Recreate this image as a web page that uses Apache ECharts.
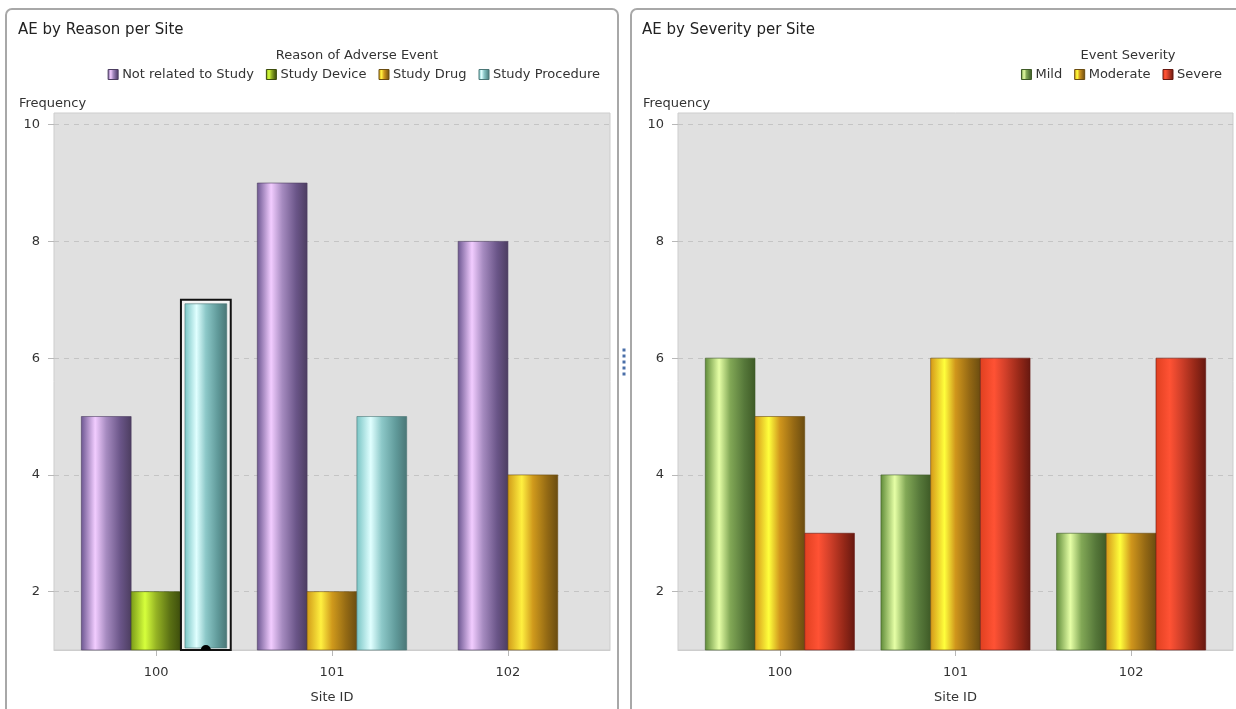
<!DOCTYPE html>
<html>
<head>
<meta charset="utf-8">
<script src="https://cdn.jsdelivr.net/npm/echarts@6/dist/echarts.min.js"></script>
<style>
  html, body { margin: 0; padding: 0; background: #fff; }
  #chart { width: 1236px; height: 709px; }
</style>
</head>
<body>
<div id="chart"></div>
<script>
// sites on the x axis
const sites = [100, 101, 102]
const yTicks = [2, 4, 6, 8, 10]
const yMin = 1
const yMax = 10.2

// AE by Reason per Site
const reasons = ['Not related to Study', 'Study Device', 'Study Drug', 'Study Procedure']
const notRelated = [5, 9, 8]
const studyDevice = [2, 0, 0]
const studyDrug = [0, 2, 4]
const studyProcedure = [7, 5, 0]
const reasonValues = [notRelated, studyDevice, studyDrug, studyProcedure]
// bar that is shown selected in the original view
const selected = { site: 100, reason: 'Study Procedure' }

// AE by Severity per Site
const severities = ['Mild', 'Moderate', 'Severe']
const mild = [6, 4, 3]
const moderate = [5, 6, 3]
const severe = [3, 6, 6]
const severityValues = [mild, moderate, severe]

const gradStops = {
  'Not related to Study': ['#6b5690', '#f2ccff', '#a68bc0', '#6a5588', '#4c3d60'],
  'Study Device': ['#7a9a18', '#d6ff3c', '#96b424', '#5a7014', '#3c4c0c'],
  'Study Drug': ['#d09a18', '#fff040', '#d09a1c', '#946a14', '#6a4c10'],
  'Study Procedure': ['#78c4c4', '#e0ffff', '#8cc8c8', '#609a9a', '#4a7676'],
  'Mild': ['#5e8a38', '#e6ffa6', '#82a856', '#56783a', '#3e5a26'],
  'Moderate': ['#d49618', '#ffff3c', '#d0961c', '#946814', '#6a4c10'],
  'Severe': ['#e04020', '#ff5234', '#d2402a', '#962818', '#661810']
}
const stopPos = [0, 0.28, 0.5, 0.78, 1]

const makeGrad = name => new echarts.graphic.LinearGradient(0, 0, 1, 0,
  gradStops[name].map((c, i) => ({ offset: stopPos[i], color: c })))

// bar width in site units
const barUnit = 0.283

// only the values present at a site are clustered around its tick
const buildData = (names, values) => {
  const out = names.map(() => [])
  sites.forEach((site, si) => {
    const present = names.map((n, k) => k).filter(k => values[k][si] > 0)
    present.forEach((k, slot) => {
      const isSel = names[k] === selected.reason && site === selected.site ? 1 : 0
      out[k].push([site, values[k][si], slot, present.length, isSel])
    })
  })
  return out
}

const renderBar = (params, api) => {
  const site = api.value(0)
  const v = api.value(1)
  const slot = api.value(2)
  const n = api.value(3)
  const isSel = api.value(4)
  const w = api.size([barUnit, 0])[0]
  const top = api.coord([site, v])
  const base = api.coord([site, yMin])
  const x = top[0] + (slot - (n - 1) / 2) * w - w / 2
  const h = base[1] - top[1]
  const fill = makeGrad(params.seriesName)
  const dark = gradStops[params.seriesName][4]
  if (!isSel) {
    return {
      type: 'rect',
      shape: { x: x, y: top[1], width: w, height: h },
      style: { fill: fill, stroke: dark, lineWidth: 0.6 }
    }
  }
  return {
    type: 'group',
    children: [
      {
        type: 'rect',
        shape: { x: x, y: top[1], width: w, height: h },
        style: { fill: '#f4f4f4', stroke: '#111', lineWidth: 2 }
      },
      {
        type: 'rect',
        shape: { x: x + 4, y: top[1] + 4, width: w - 8, height: h - 6 },
        style: { fill: fill, stroke: dark, lineWidth: 0.6 }
      },
      {
        type: 'sector',
        shape: { cx: x + w / 2, cy: base[1], r0: 0, r: 5, startAngle: Math.PI, endAngle: Math.PI * 2 },
        style: { fill: '#000' }
      }
    ]
  }
}

const font = 'DejaVu Sans'
const txt = '#333'

const makeGrid = (left, width) => ({
  left: left, top: 113, width: width, height: 537,
  show: true, backgroundColor: '#e0e0e0', borderColor: '#cdcdcd', borderWidth: 1
})

const makeX = idx => ({
  type: 'value', gridIndex: idx, min: 99.42, max: 102.58,
  name: 'Site ID', nameLocation: 'middle', nameGap: 41,
  nameTextStyle: { fontFamily: font, fontSize: 13, color: txt },
  splitLine: { show: false },
  axisLine: { show: true, lineStyle: { color: '#cdcdcd' } },
  axisTick: { show: true, customValues: sites, length: 6, lineStyle: { color: '#b8b8b8' } },
  axisLabel: {
    customValues: sites, margin: 16, fontFamily: font, fontSize: 13, color: txt,
    formatter: v => Number.isInteger(v) ? String(v) : ''
  }
})

const makeY = idx => ({
  type: 'value', gridIndex: idx, min: yMin, max: yMax, splitNumber: 5,
  name: 'Frequency', nameLocation: 'end', nameGap: 3,
  nameTextStyle: { fontFamily: font, fontSize: 13, color: txt, align: 'left', padding: [0, 0, 0, -35] },
  axisLine: { show: false },
  axisTick: { show: true, customValues: yTicks, length: 6, lineStyle: { color: '#b8b8b8' } },
  axisLabel: {
    customValues: yTicks, margin: 14, fontFamily: font, fontSize: 13, color: txt,
    formatter: v => yTicks.includes(v) ? String(v) : ''
  },
  splitLine: { show: true, lineStyle: { type: [5, 5], color: '#c4c4c4' } }
})

const reasonData = buildData(reasons, reasonValues)
const severityData = buildData(severities, severityValues)

const makeSeries = (names, data, idx) => names.map((name, k) => ({
  name: name,
  type: 'custom',
  coordinateSystem: 'cartesian2d',
  xAxisIndex: idx,
  yAxisIndex: idx,
  itemStyle: { color: gradStops[name][1] },
  encode: { x: 0, y: 1 },
  renderItem: renderBar,
  data: data[k]
}))

const legendItem = name => ({
  name: name,
  icon: 'rect',
  itemStyle: { color: makeGrad(name), borderColor: gradStops[name][4], borderWidth: 1 }
})

const chart = echarts.init(document.getElementById('chart'))
chart.setOption({
  backgroundColor: '#fff',
  animation: false,
  graphic: [
    { type: 'rect', shape: { x: 6, y: 9, width: 612, height: 720, r: [6, 6, 0, 0] },
      style: { fill: '#fff', stroke: '#a8a8a8', lineWidth: 2 }, z: -10 },
    { type: 'rect', shape: { x: 631, y: 9, width: 620, height: 720, r: [6, 6, 0, 0] },
      style: { fill: '#fff', stroke: '#a8a8a8', lineWidth: 2 }, z: -10 },
    ...[350, 356, 362, 368, 374].map(y => ({
      type: 'rect', shape: { x: 622.5, y: y - 1.5, width: 3, height: 3 },
      style: { fill: '#4a6fa8' }
    }))
  ],
  title: [
    { text: 'AE by Reason per Site', left: 13, top: 18,
      textStyle: { fontFamily: font, fontSize: 15, fontWeight: 'normal', color: '#222' } },
    { text: 'AE by Severity per Site', left: 637, top: 18,
      textStyle: { fontFamily: font, fontSize: 15, fontWeight: 'normal', color: '#222' } },
    { text: 'Reason of Adverse Event', left: 352, top: 44, textAlign: 'center',
      textStyle: { fontFamily: font, fontSize: 13, fontWeight: 'normal', color: txt } },
    { text: 'Event Severity', left: 1123, top: 44, textAlign: 'center',
      textStyle: { fontFamily: font, fontSize: 13, fontWeight: 'normal', color: txt } }
  ],
  legend: [
    { data: reasons.map(legendItem), right: 631, top: 63, itemWidth: 10, itemHeight: 10,
      itemGap: 12, selectedMode: false,
      textStyle: { fontFamily: font, fontSize: 13, color: txt, padding: [0, 0, 0, -1] } },
    { data: severities.map(legendItem), right: 9, top: 63, itemWidth: 10, itemHeight: 10,
      itemGap: 12, selectedMode: false,
      textStyle: { fontFamily: font, fontSize: 13, color: txt, padding: [0, 0, 0, -1] } }
  ],
  grid: [makeGrid(54, 556), makeGrid(678, 555)],
  xAxis: [makeX(0), makeX(1)],
  yAxis: [makeY(0), makeY(1)],
  series: [
    ...makeSeries(reasons, reasonData, 0),
    ...makeSeries(severities, severityData, 1)
  ]
})
</script>
</body>
</html>
